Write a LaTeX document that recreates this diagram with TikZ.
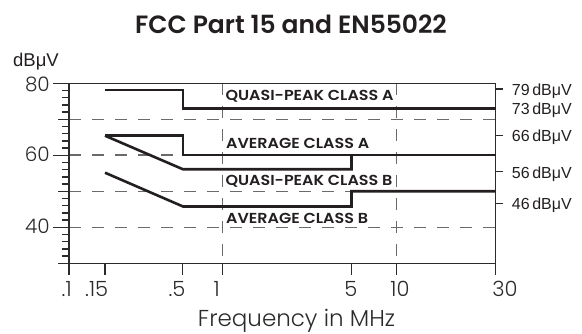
\documentclass[tikz,border=0pt]{standalone}
\usepackage{fontspec}
\setmainfont{Poppins}
\newfontfamily\plight{Poppins Light}
\newfontfamily\psemi{Poppins SemiBold}
\newfontfamily\plbl{Poppins SemiBold}[FakeStretch=1.1]
\newfontfamily\arialf{Liberation Sans}
\definecolor{curvec}{HTML}{231F20}
\definecolor{framec}{HTML}{2B2B2B}
\definecolor{gridc}{HTML}{6A6A6A}
\begin{document}
\begin{tikzpicture}[x=1pt,y=-1pt,
  curve/.style={line width=2.6pt, draw=curvec, line join=miter},
  frame/.style={line width=1.4pt, draw=framec},
  gridline/.style={line width=1.4pt, draw=gridc, dash pattern=on 12pt off 11pt},
  lbl/.style={font=\plbl\fontsize{14.5}{14.5}\selectfont, text=curvec, anchor=base west, inner sep=0pt},
  rlbl/.style={font=\arialf\fontsize{16}{16}\selectfont, text=curvec, anchor=base west, inner sep=0pt},
  ylbl/.style={font=\plight\fontsize{20}{20}\selectfont, text=framec, anchor=base east, inner sep=0pt},
  xlbl/.style={font=\plight\fontsize{21}{21}\selectfont, text=framec, anchor=base, inner sep=0pt}]
\useasboundingbox (0,0) rectangle (582,334);
% title
\node[font=\psemi\fontsize{25}{25}\selectfont, text=curvec, anchor=base, inner sep=0pt] (title) at (291,34) {FCC Part 15 and EN55022};
\node[font=\arialf\fontsize{18.5}{18.5}\selectfont, text=curvec, anchor=base west, inner sep=0pt] (unit) at (13,67) {dBμV};
% grid
\foreach \yy in {119.3,155,191.3,227.7} \draw[gridline] (69,\yy) -- (495.7,\yy);
\foreach \xx in {222.7,396.7} \draw[gridline] (\xx,83.3) -- (\xx,263.3);
% left ticks
\foreach \v in {32,34,...,78} \draw[frame] (61.7,{83.3+(80-\v)*3.6}) -- (69,{83.3+(80-\v)*3.6});
\foreach \v in {70,50} \draw[frame] (58.3,{83.3+(80-\v)*3.6}) -- (69,{83.3+(80-\v)*3.6});
\foreach \v in {60,40} \draw[frame] (53.3,{83.3+(80-\v)*3.6}) -- (69,{83.3+(80-\v)*3.6});
% frame
\draw[frame] (53.3,83.3) -- (495.7,83.3);
\draw[frame] (58.3,263.3) -- (495.7,263.3);
\draw[frame] (69,83.3) -- (69,275);
\draw[frame] (495.7,83.3) -- (495.7,275);
\foreach \xx in {105,182.7,222.7,351.5,396.7} \draw[frame] (\xx,263.3) -- (\xx,275);
% right ticks
\foreach \yy in {89,135.7,171.7,203.3} \draw[frame] (495.7,\yy) -- (503,\yy);
% curves
\draw[curve] (105,90) -- (183,90) -- (183,108.3) -- (495.7,108.3);
\draw[curve] (105,135.7) -- (183,135.7) -- (183,155) -- (495.7,155);
\draw[curve] (105,135.7) -- (183,169.3) -- (351.5,169.3) -- (351.5,155);
\draw[curve] (105,172.7) -- (183,206.5) -- (351.5,206.5) -- (351.5,191.3) -- (495.7,191.3);
% curve labels
\node[lbl] (qpa) at (225.3,100.7) {QUASI-PEAK CLASS A};
\node[lbl] (ava) at (226,149) {AVERAGE CLASS A};
\node[lbl] (qpb) at (225.3,186) {QUASI-PEAK CLASS B};
\node[lbl] (avb) at (226,223.3) {AVERAGE CLASS B};
% right labels
\node[rlbl] (r79) at (511.7,95.7) {79\,dBμV};
\node[rlbl] (r73) at (511.7,114.3) {73\,dBμV};
\node[rlbl] (r66) at (511.7,141.7) {66\,dBμV};
\node[rlbl] (r56) at (511.7,178.3) {56\,dBμV};
\node[rlbl] (r46) at (511.7,210) {46\,dBμV};
% y labels
\node[ylbl] (y80) at (50,92) {80};
\node[ylbl] (y60) at (50,161.7) {60};
\node[ylbl] (y40) at (50,234) {40};
% x labels
\node[xlbl] (x01) at (66.7,296.7) {.1};
\node[xlbl] (x015) at (96.7,296.7) {.15};
\node[xlbl] (x05) at (177,296.7) {.5};
\node[xlbl] (x1) at (216.7,296.7) {1};
\node[xlbl] (x5) at (350.8,296.7) {5};
\node[xlbl] (x10) at (400,296.7) {10};
\node[xlbl] (x30) at (505,296.7) {30};
\node[font=\plight\fontsize{23}{23}\selectfont, text=framec, anchor=base, inner sep=0pt] (xt) at (296.5,326.5) {Frequency in MHz};
\end{tikzpicture}
\end{document}
